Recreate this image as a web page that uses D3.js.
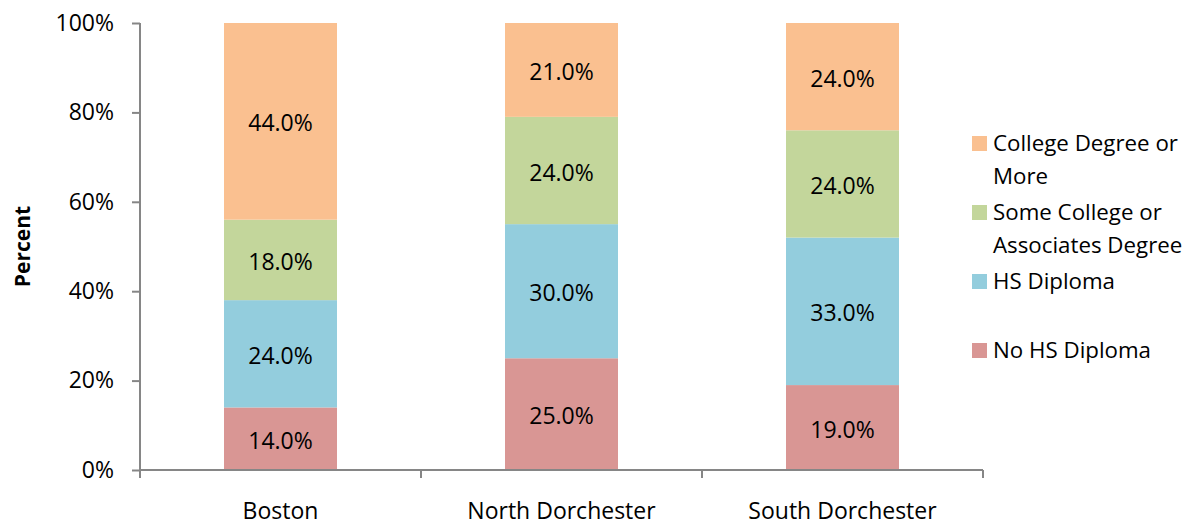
<html>
<head>
<meta charset="utf-8">
<title>Education by neighborhood</title>
<style>
body { margin:0; padding:0; background:white; }
svg text { font-family:'Open Sans', 'DejaVu Sans', sans-serif; fill:#000; }
</style>
</head>
<body>
<svg id="chart" width="1191" height="525"></svg>
<script src="https://d3js.org/d3.v7.min.js"></script>
<script>
var categories = ["Boston", "North Dorchester", "South Dorchester"];
var seriesNames = ["No HS Diploma", "HS Diploma", "Some College or Associates Degree", "College Degree or More"];
var noHS = [14, 25, 19];
var hsDiploma = [24, 30, 33];
var someCollege = [18, 24, 24];
var collegeDegree = [44, 21, 24];
var yTicks = [0, 20, 40, 60, 80, 100];
var colors = ["#D99694", "#93CDDD", "#C3D69B", "#FAC090"];

var seriesValues = [noHS, hsDiploma, someCollege, collegeDegree];
var rows = categories.map(function(c, i) {
    var r = { cat: c };
    seriesNames.forEach(function(s, j) { r[s] = seriesValues[j][i]; });
    return r;
});

var svg = d3.select("#chart");
var plotLeft = 140, plotRight = 983, plotTop = 23, plotBottom = 470;
var fs = "23px";

var x = d3.scaleBand().domain(categories).range([plotLeft, plotRight]);
var y = d3.scaleLinear().domain([0, 100]).range([plotBottom, plotTop]);

var stack = d3.stack().keys(seriesNames)(rows);
var barW = 113;

// bars
var layers = svg.selectAll("g.layer").data(stack).enter().append("g")
    .attr("class", "layer")
    .attr("fill", function(d, i) { return colors[i]; });

layers.selectAll("rect").data(function(d) { return d; }).enter().append("rect")
    .attr("x", function(d) { return x(d.data.cat) + x.bandwidth() / 2 - barW / 2; })
    .attr("y", function(d) { return y(d[1]); })
    .attr("width", barW)
    .attr("height", function(d) { return y(d[0]) - y(d[1]); });

layers.selectAll("text").data(function(d) { return d; }).enter().append("text")
    .attr("x", function(d) { return x(d.data.cat) + x.bandwidth() / 2; })
    .attr("y", function(d) { return (y(d[0]) + y(d[1])) / 2 + 2; })
    .attr("dy", "0.35em")
    .attr("text-anchor", "middle")
    .style("font-size", fs)
    .text(function(d) { return (d[1] - d[0]).toFixed(1) + "%"; });

// y axis
var yAxis = svg.append("g")
    .attr("transform", "translate(" + plotLeft + ",0)")
    .call(d3.axisLeft(y).tickValues(yTicks).tickSize(8).tickPadding(18)
        .tickFormat(function(d) { return d + "%"; }));
yAxis.selectAll("text").style("font-size", fs);

// x axis
var xAxis = svg.append("g")
    .attr("transform", "translate(0," + plotBottom + ")")
    .call(d3.axisBottom(x).tickSize(0).tickPadding(33));
xAxis.selectAll("text").style("font-size", fs);
xAxis.selectAll(".sep").data(d3.range(categories.length + 1)).enter().append("line")
    .attr("class", "sep")
    .attr("x1", function(i) { return plotLeft + i * x.bandwidth(); })
    .attr("x2", function(i) { return plotLeft + i * x.bandwidth(); })
    .attr("y1", 0).attr("y2", 8);

svg.selectAll(".domain, .tick line, .sep").attr("stroke", "#868686").attr("stroke-width", 2);
xAxis.select(".domain").attr("d", "M" + plotLeft + ",0H" + plotRight);
yAxis.select(".domain").attr("d", "M0," + plotTop + "V" + plotBottom);

// y title
svg.append("text")
    .attr("transform", "translate(23," + ((plotTop + plotBottom) / 2) + ") rotate(-90)")
    .attr("text-anchor", "middle")
    .attr("dy", "0.35em")
    .style("font-size", "21px")
    .style("font-weight", "bold")
    .text("Percent");

// legend
var legendItems = [
    { lines: ["College Degree or", "More"], color: colors[3], y: 143 },
    { lines: ["Some College or", "Associates Degree"], color: colors[2], y: 212 },
    { lines: ["HS Diploma"], color: colors[1], y: 281 },
    { lines: ["No HS Diploma"], color: colors[0], y: 350 }
];
var lg = svg.selectAll("g.legend").data(legendItems).enter().append("g")
    .attr("class", "legend")
    .attr("transform", function(d) { return "translate(972," + d.y + ")"; });
lg.append("rect").attr("x", 0).attr("y", -7).attr("width", 15).attr("height", 15)
    .attr("fill", function(d) { return d.color; });
lg.each(function(d) {
    var t = d3.select(this).append("text").style("font-size", "22.3px");
    d.lines.forEach(function(l, i) {
        t.append("tspan").attr("x", 21).attr("y", i * 33).attr("dy", "0.35em").text(l);
    });
});
</script>
</body>
</html>
